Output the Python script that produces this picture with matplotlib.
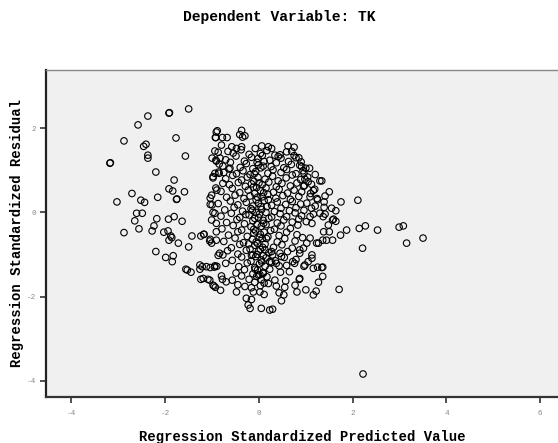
import matplotlib
matplotlib.use("Agg")
import matplotlib.pyplot as plt

# standardized predicted value (x) and standardized residual (y), one entry per case
pred = [
    # left tail
    -1.50, -1.92, -1.91, -2.37, -2.58, -2.88, -1.77, -2.46, -2.41, -2.37,
    -2.37, -1.57, -3.18, -3.17, -2.20, -1.81, -1.92, -1.84, -1.59, -2.71,
    -3.03, -2.52, -2.44, -2.16, -1.76, -1.75, -2.61, -2.49, -2.65, -2.88,
    -2.56, -2.24, -2.28, -2.18, -1.93, -1.81, -1.64, -2.03, -1.94, -1.88,
    -1.92, -1.86, -1.72, -1.43, -1.50, -1.24, -1.18, -1.04, -1.01, -2.20,
    -1.99, -1.83, -1.85, -1.56, -1.53, -1.45, -1.26, -1.21, -1.04, -0.95,
    -0.90, -1.24, -1.09, -0.98, -0.93,
    -1.04, -1.00, -0.98, -0.94, -1.01, -0.91, -0.91, -0.91, -0.87,
    -0.91, -0.92, -1.00, -0.92, -0.91, -0.98, -0.94, -0.92,
    # upper edge of the main cloud
    -0.89, -0.93, -0.78, -0.68, -0.37, -0.41, -0.35, -0.30, -0.58, -0.48,
    -0.37, 0.06, 0.20, 0.27, 0.45, 0.47, -0.94, -0.87, -0.83, -0.98,
    -0.85, -0.75, -0.77, -0.90, -1.01, -1.04, 1.30,
    # lower edge of the main cloud
    -1.17, -1.05, -0.84, -0.77, -1.26, -1.12, -0.94, -1.19, -1.05, -0.96,
    -0.80, -0.78, -0.70, -0.57, -0.82, -0.48, -0.30, -0.16, -0.12, 0.02,
    0.11, -0.27, -0.16, -0.23, -0.19, 0.05, 0.23, 0.29, 0.20, 0.34,
    0.37, 0.43, 0.53, 0.57, 0.55, 0.48, 0.65, 0.86, 0.77, 0.81,
    1.00, 1.16, 1.16, 1.25, 1.05, 0.98, 0.72, 0.76, 0.79, 1.02,
    1.09, 0.87, 0.87, 1.23, 1.13, 1.09, 0.23, 0.37, 0.43, -0.01,
    0.09, 0.13, 0.27, 0.29, 0.45, 0.48,
    # right side
    1.34, 2.11, 1.75, 1.50, 1.41, 1.39, 1.39, 1.55, 1.64, 0.87,
    0.96, 0.98, 1.05, 1.12, 1.16, 1.09, 1.02, 1.12, 1.16, 1.30,
    1.37, 1.59, 1.57, 1.64, 1.48, 1.41, 1.87, 1.74, 2.14, 2.27,
    2.53, 2.99, 3.08, 3.15, 2.21, 1.38, 1.50, 1.36, 1.44, 1.57,
    1.27, 0.95, 1.13, 1.13, 0.96, 1.34, 1.36, 1.36, 1.27, 1.22,
    1.71, 0.87, 3.50, 2.22,
    0.75, 0.90, 1.08, 1.20, 0.95, 1.10, 1.25, 1.20, 0.70, 0.85,
    1.00, 0.62, 0.75, -0.80, -0.66, -0.85, -0.62,
]

resid = [
    # left tail
    2.46, 2.36, 2.37, 2.29, 2.08, 1.70, 1.77, 1.57, 1.62, 1.36,
    1.29, 1.34, 1.17, 1.18, 0.96, 0.77, 0.56, 0.51, 0.49, 0.45,
    0.25, 0.29, 0.24, 0.36, 0.31, 0.32, -0.02, -0.02, -0.20, -0.48,
    -0.39, -0.32, -0.44, -0.15, -0.16, -0.10, -0.21, -0.47, -0.44, -0.56,
    -0.66, -0.60, -0.73, -0.56, -0.82, -0.56, -0.52, -0.64, -0.73, -0.93,
    -1.07, -1.03, -1.17, -1.35, -1.37, -1.42, -1.35, -1.29, -1.31, -1.30,
    -1.28, -1.59, -1.59, -1.73, -1.78,
    0.34, 0.18, 0.00, -0.02, -0.18, -0.26, -0.46, -0.66, -1.02,
    1.91, 1.78, 1.29, 1.24, 1.22, 0.82, 0.93, 0.58,
    # upper edge of the main cloud
    1.94, 1.78, 1.78, 1.78, 1.95, 1.85, 1.79, 1.82, 1.56, 1.52,
    1.56, 1.58, 1.56, 1.52, 1.37, 1.29, 1.46, 1.43, 1.29, 0.85,
    0.93, 0.95, 0.69, 0.53, 0.41, 0.19, 0.75,
    # lower edge of the main cloud
    -0.52, -0.68, -0.97, -1.01, -1.25, -1.29, -1.27, -1.57, -1.61, -1.75,
    -1.51, -1.59, -1.65, -1.61, -1.85, -1.89, -1.76, -1.79, -1.89, -1.89,
    -1.95, -2.04, -2.07, -2.20, -2.28, -2.28, -2.32, -2.30, -1.69, -1.61,
    -1.75, -1.91, -1.96, -1.63, -1.78, -2.10, -1.41, -1.59, -1.73, -1.89,
    -1.84, -1.96, -1.33, -1.30, -1.17, -1.25, -1.17, -1.21, -1.12, -0.73,
    -0.61, -0.97, -0.89, -0.73, -0.26, -0.10, -1.17, -1.21, -1.27, -1.49,
    -1.45, -0.89, -0.93, -1.01, -0.97, -1.05,
    # right side
    0.75, 0.29, 0.25, 0.49, 0.39, 0.25, 0.12, 0.10, 0.04, 1.12,
    0.93, 0.79, 0.73, 0.67, 0.52, 0.37, 0.22, 0.10, -0.04, -0.02,
    -0.10, -0.16, -0.18, -0.21, -0.30, -0.04, -0.42, -0.54, -0.38, -0.32,
    -0.42, -0.35, -0.32, -0.73, -0.85, -0.46, -0.46, -0.66, -0.66, -0.66,
    -0.73, -0.85, -1.01, -1.09, -1.28, -1.31, -1.30, -1.52, -1.66, -1.87,
    -1.83, -1.57, -0.61, -3.84,
    1.35, 1.20, 1.05, 0.90, 0.62, 0.45, 0.30, 0.15, 1.45, 1.30,
    1.05, 1.58, 1.55, 1.60, 1.45, 1.15, 1.05,
]

# dense middle of the cloud, as (predicted, residual) pairs
core = [
    (-0.55, 1.41), (-0.38, 1.49), (-0.21, 1.38), (-0.08, 1.52), (0.03, 1.40),
    (0.17, 1.47), (0.34, 1.36), (0.59, 1.44),
    (-0.71, 1.25), (-0.49, 1.34), (-0.31, 1.22), (-0.16, 1.31), (-0.04, 1.19),
    (0.07, 1.35), (0.23, 1.24), (0.41, 1.33), (0.63, 1.21), (0.79, 1.30),
    (-0.77, 1.10), (-0.61, 1.19), (-0.40, 1.07), (-0.27, 1.16), (-0.13, 1.04),
    (-0.01, 1.13), (0.11, 1.21), (0.26, 1.09), (0.37, 1.18), (0.53, 1.06),
    (0.69, 1.14), (0.91, 1.09),
    (-0.86, 0.96), (-0.64, 1.03), (-0.48, 0.92), (-0.34, 0.99), (-0.19, 0.90),
    (-0.07, 0.97), (0.04, 1.06), (0.19, 0.93), (0.30, 1.01), (0.47, 0.95),
    (0.59, 1.02), (0.79, 0.92), (0.94, 0.99),
    (-0.71, 0.80), (-0.56, 0.88), (-0.37, 0.77), (-0.25, 0.84), (-0.11, 0.74),
    (-0.02, 0.83), (0.13, 0.79), (0.29, 0.86), (0.41, 0.75), (0.58, 0.82),
    (0.71, 0.89), (0.89, 0.78), (1.04, 0.84),
    (-0.63, 0.66), (-0.44, 0.71), (-0.29, 0.62), (-0.16, 0.68), (-0.05, 0.59),
    (0.07, 0.66), (0.21, 0.72), (0.37, 0.61), (0.49, 0.69), (0.67, 0.63),
    (0.81, 0.70), (0.97, 0.64),
    (-0.81, 0.50), (-0.57, 0.57), (-0.41, 0.47), (-0.23, 0.53), (-0.09, 0.45),
    (0.03, 0.52), (0.15, 0.58), (0.31, 0.48), (0.43, 0.55), (0.61, 0.46),
    (0.75, 0.53), (0.91, 0.49), (1.19, 0.55),
    (-0.69, 0.36), (-0.51, 0.41), (-0.32, 0.33), (-0.19, 0.39), (-0.06, 0.30),
    (0.07, 0.37), (0.19, 0.43), (0.36, 0.34), (0.51, 0.40), (0.67, 0.31),
    (0.85, 0.38), (1.24, 0.33),
    (-0.87, 0.21), (-0.61, 0.27), (-0.45, 0.18), (-0.27, 0.24), (-0.13, 0.15),
    (-0.01, 0.22), (0.11, 0.28), (0.27, 0.17), (0.39, 0.25), (0.57, 0.19),
    (0.71, 0.26), (0.89, 0.20),
    (-0.73, 0.06), (-0.53, 0.12), (-0.35, 0.03), (-0.17, 0.09), (-0.06, 0.00),
    (0.06, 0.07), (0.17, 0.14), (0.33, 0.02), (0.47, 0.10), (0.65, 0.04),
    (0.79, 0.11), (0.96, 0.05),
    (-0.81, -0.09), (-0.59, -0.02), (-0.41, -0.12), (-0.21, -0.06), (-0.09, -0.14),
    (0.01, -0.04), (0.15, 0.00), (0.27, -0.11), (0.45, -0.03), (0.59, -0.10),
    (0.77, -0.01), (0.91, -0.08),
    (-0.69, -0.24), (-0.47, -0.17), (-0.31, -0.27), (-0.13, -0.20), (-0.04, -0.29),
    (0.09, -0.19), (0.21, -0.14), (0.39, -0.25), (0.53, -0.18), (0.71, -0.23),
    (0.85, -0.16), (1.01, -0.22),
    (-0.79, -0.39), (-0.55, -0.31), (-0.37, -0.42), (-0.17, -0.34), (-0.07, -0.44),
    (0.05, -0.33), (0.15, -0.29), (0.33, -0.40), (0.47, -0.32), (0.67, -0.38),
    (0.83, -0.30),
    (-0.65, -0.54), (-0.45, -0.46), (-0.25, -0.57), (-0.11, -0.49), (0.01, -0.59),
    (0.11, -0.47), (0.25, -0.43), (0.43, -0.55), (0.59, -0.47), (0.81, -0.53),
    (-0.75, -0.69), (-0.51, -0.61), (-0.33, -0.72), (-0.14, -0.64), (-0.03, -0.74),
    (0.07, -0.62), (0.19, -0.58), (0.39, -0.70), (0.55, -0.62), (0.77, -0.68),
    (0.93, -0.60),
    (-0.59, -0.84), (-0.41, -0.76), (-0.19, -0.87), (-0.09, -0.78), (0.03, -0.88),
    (0.13, -0.75), (0.31, -0.83), (0.49, -0.77), (0.71, -0.85),
    (-0.67, -0.91), (-0.45, -0.99), (-0.27, -0.90), (-0.13, -1.01), (-0.01, -0.92),
    (0.09, -1.03), (0.21, -0.96), (0.61, -0.93),
    (-0.57, -1.14), (-0.37, -1.06), (-0.17, -1.16), (-0.07, -1.05), (0.05, -1.13),
    (0.15, -1.08), (0.35, -1.15), (0.54, -1.07),
    (-0.71, -1.21), (-0.43, -1.29), (-0.25, -1.20), (-0.09, -1.31), (0.01, -1.22),
    (0.13, -1.28), (0.27, -1.19), (0.59, -1.26),
    (-0.49, -1.44), (-0.31, -1.36), (-0.13, -1.46), (-0.03, -1.37), (0.09, -1.43),
    (0.23, -1.35), (0.46, -1.42),
    (-0.37, -1.51), (-0.21, -1.59), (-0.05, -1.52), (0.05, -1.60), (0.17, -1.53),
    (-0.45, -1.72), (-0.09, -1.66), (0.03, -1.74), (0.11, -1.68),
    # the near-zero column is the darkest part
    (-0.02, 1.28), (0.09, 1.10), (-0.10, 0.92), (0.00, 0.70), (-0.12, 0.60),
    (0.10, 0.47), (-0.03, 0.36), (0.04, 0.14), (-0.14, 0.05), (-0.01, -0.12),
    (0.10, -0.26), (-0.11, -0.40), (0.03, -0.52), (-0.06, -0.70), (0.08, -0.83),
    (-0.04, -1.00), (0.06, -1.18), (-0.08, -1.35), (0.02, -1.48), (-0.16, -1.02),
    (-0.22, -0.75), (-0.28, -0.05), (0.20, 0.30), (0.16, -0.62),
]

xticks = [-4, -2, 0, 2, 4, 6]
yticks = [-4, -2, 0, 2]

MONO = "Liberation Mono"

all_x = pred + [p[0] for p in core]
all_y = resid + [p[1] for p in core]

fig = plt.figure(figsize=(5.58, 4.43), dpi=100)
fig.patch.set_facecolor("white")

ax = fig.add_axes([45.7 / 558, 1 - 396.7 / 443, 1 - 45.7 / 558, (396.7 - 70) / 443])
ax.set_facecolor("#f0f0f0")

ax.scatter(all_x, all_y, s=22, facecolors="none", edgecolors="black",
           linewidths=0.8, zorder=3)

ax.set_xlim(-4.55, 6.38)
ax.set_ylim(-4.38, 3.385)
ax.set_xticks(xticks)
ax.set_yticks(yticks)
ax.set_xticklabels([str(t) for t in xticks])
ax.set_yticklabels([str(t) for t in yticks])
ax.tick_params(direction="out", length=4.5, width=1.1, color="#222222",
               labelsize=5.5, labelcolor="#888888", pad=2.5)
ax.tick_params(axis="x", pad=5)
for lab in ax.get_xticklabels() + ax.get_yticklabels():
    lab.set_family(MONO)

ax.spines["left"].set_color("#222222")
ax.spines["left"].set_linewidth(1.6)
ax.spines["bottom"].set_color("#333333")
ax.spines["bottom"].set_linewidth(1.6)
ax.spines["top"].set_color("#888888")
ax.spines["top"].set_linewidth(1.0)
ax.spines["right"].set_visible(False)

fig.text(0.5, 1 - 17 / 443, "Dependent Variable: TK", ha="center", va="center",
         family=MONO, fontweight="bold", fontsize=10.5)
fig.text(302 / 558, 1 - 437 / 443, "Regression Standardized Predicted Value",
         ha="center", va="center", family=MONO, fontweight="bold", fontsize=10)
fig.text(17 / 558, 1 - 233 / 443, "Regression Standardized Residual",
         ha="center", va="center", rotation=90, family=MONO,
         fontweight="bold", fontsize=10)

fig.savefig("out.png", dpi=100)
